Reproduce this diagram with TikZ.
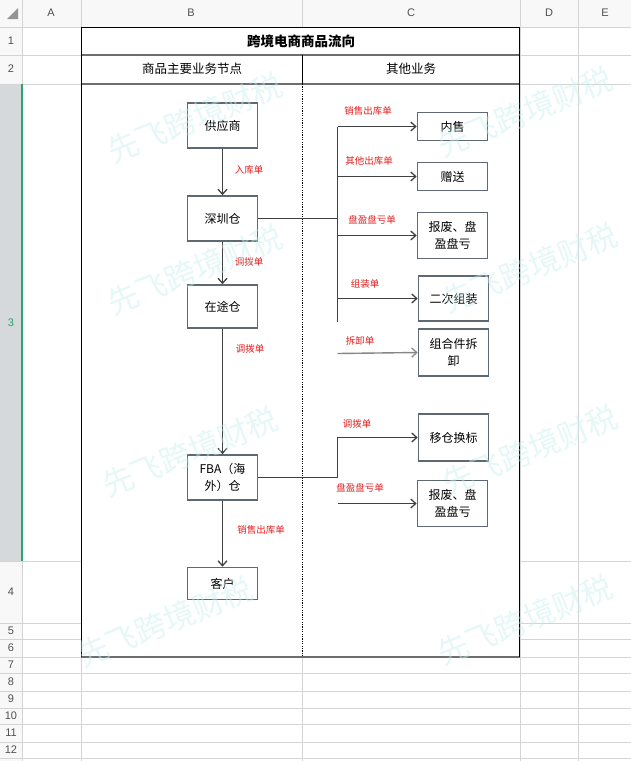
\documentclass[tikz,border=0pt]{standalone}
\usepackage{fontspec}
\setmainfont{Noto Sans CJK SC}
\newfontfamily\latin{Liberation Sans}
\usetikzlibrary{arrows.meta}
\definecolor{boxc}{RGB}{95,105,115}
\definecolor{arrc}{RGB}{65,65,65}
\definecolor{lightarr}{RGB}{135,135,135}
\definecolor{labred}{RGB}{230,30,30}
\definecolor{gridc}{RGB}{212,212,212}
\definecolor{hdrc}{RGB}{80,80,80}
\definecolor{hdrbg}{RGB}{248,248,248}
\definecolor{selc}{RGB}{214,217,220}
\definecolor{selg}{RGB}{40,165,110}
\definecolor{wmc}{RGB}{200,238,238}
\definecolor{thickc}{RGB}{110,110,110}
\begin{document}
\begin{tikzpicture}[x=1pt,y=-1pt,
  box/.style={draw=boxc,line width=1.6pt,minimum width=70pt,inner sep=0pt,align=center,font=\fontsize{12}{17}\selectfont},
  lab/.style={text=labred,font=\fontsize{9.5}{11}\selectfont,inner sep=0pt},
  arr/.style={draw=arrc,line width=1.4pt,-{Straight Barb[length=5pt,width=9pt,line width=1.3pt]}},
  wire/.style={draw=arrc,line width=1.4pt},
  grid/.style={draw=gridc,line width=0.8pt},
  hdr/.style={text=hdrc,font=\latin\fontsize{11}{11}\selectfont,inner sep=0pt},
  wm/.style={text=wmc,text opacity=0.45,font=\fontsize{31}{31}\selectfont,rotate=22,inner sep=0pt}]
\useasboundingbox (0,0) rectangle (631,761);
% backgrounds
\fill[white] (0,0) rectangle (631,761);
\fill[hdrbg] (0,0) rectangle (631,27);
\fill[hdrbg] (0,27) rectangle (22,761);
\fill[selc] (0,84) rectangle (22,561);
% grid lines
\foreach \yy in {27,673,691,708,724,742,758} \draw[grid] (0,\yy) -- (631,\yy);
\foreach \yy in {55,84,561,623,639,657} {\draw[grid] (0,\yy) -- (81,\yy); \draw[grid] (520,\yy) -- (631,\yy);}
\foreach \xx in {22,81,520,578} \draw[grid] (\xx,0) -- (\xx,761);
\draw[grid] (302,0) -- (302,27);
\draw[grid] (302,657) -- (302,761);
\draw[selg,line width=1.6pt] (22,84) -- (22,561);
\fill[gridc!70!black] (18,8) -- (18,19) -- (7,19) -- cycle;
% column and row headers
\node[hdr] (ca) at (51,13) {A};
\node[hdr] (cb) at (191,13) {B};
\node[hdr] (cc) at (411,13) {C};
\node[hdr] (cd) at (549,13) {D};
\node[hdr] (ce) at (605,13) {E};
\node[hdr] (r1) at (11,41) {1};
\node[hdr] (r2) at (11,69) {2};
\node[hdr,text=selg] (r3) at (11,323) {3};
\node[hdr] (r4) at (11,592) {4};
\node[hdr] (r5) at (11,631) {5};
\node[hdr] (r6) at (11,648) {6};
\node[hdr] (r7) at (11,665) {7};
\node[hdr] (r8) at (11,682) {8};
\node[hdr] (r9) at (11,699) {9};
\node[hdr] (r10) at (11,716) {10};
\node[hdr] (r11) at (11,733) {11};
\node[hdr] (r12) at (11,750) {12};
% table frame
\draw[thickc,line width=2pt] (81,55) -- (520,55);
\draw[thickc,line width=2pt] (81,84) -- (520,84);
\draw[thickc,line width=2pt] (81,657) -- (520,657);
\draw[black,line width=1.2pt] (81.5,657) -- (81.5,27.5) -- (519.5,27.5) -- (519.5,657);
\draw[black,line width=1.2pt] (302.5,55) -- (302.5,84);
\draw[black,line width=0.9pt,dash pattern=on 1.2pt off 1.2pt] (302.5,84) -- (302.5,657);
% titles
\node[font=\bfseries\fontsize{13.5}{14}\selectfont] (title) at (301,41) {跨境电商商品流向};
\node[font=\fontsize{12.5}{13}\selectfont] (hl) at (192,69) {商品主要业务节点};
\node[font=\fontsize{12.5}{13}\selectfont] (hr) at (411,69) {其他业务};
% main nodes
\node[box,minimum height=45pt] (sup) at (222.5,125.5) {供应商};
\node[box,minimum height=45pt] (szc) at (222.5,218.5) {深圳仓};
\node[box,minimum height=43pt] (ztc) at (222.5,306.5) {在途仓};
\node[box,minimum height=45pt] (fba) at (222.5,477.5) {FBA（海\\外）仓};
\node[box,minimum height=32pt] (kh) at (222.5,583.5) {客户};
% right nodes
\node[box,minimum height=28pt] (ns) at (452.5,126.5) {内售};
\node[box,minimum height=28pt] (zs) at (452.5,176.5) {赠送};
\node[box,minimum height=46pt] (bf1) at (452.5,235.5) {报废、盘\\盈盘亏};
\node[box,minimum height=45pt] (ecz) at (453.5,298.5) {二次组装};
\node[box,minimum height=47pt] (cx) at (453.5,352.5) {组合件拆\\卸};
\node[box,minimum height=47pt] (yc) at (453.5,437.5) {移仓换标};
\node[box,minimum height=46pt] (bf2) at (452.5,503.5) {报废、盘\\盈盘亏};
% main flow
\draw[arr] (sup) -- (szc);
\draw[arr] (szc) -- (ztc);
\draw[arr] (ztc) -- (fba);
\draw[arr] (fba) -- (kh);
\node[lab] (l1) at (249,170) {入库单};
\node[lab] (l2) at (249,262) {调拨单};
\node[lab] (l3) at (250,349) {调拨单};
\node[lab] (l4) at (261,530) {销售出库单};
% branches from 深圳仓
\coordinate (bartop) at (337.5,126.5);
\coordinate (barbot) at (337.5,322);
\draw[wire] (szc.east) -- (szc.east -| bartop);
\draw[wire] (bartop) -- (barbot);
\draw[arr] (bartop) -- (ns.west);
\draw[arr] (zs.west -| bartop) -- (zs.west);
\draw[arr] (bf1.west -| bartop) -- (bf1.west);
\draw[arr] (ecz.west -| bartop) -- (ecz.west);
\coordinate (cxs) at (337.5,353.5);
\draw[arr,draw=lightarr] (cxs) -- (cx.west);
\node[lab] (b1) at (368,111) {销售出库单};
\node[lab] (b2) at (369,161) {其他出库单};
\node[lab] (b3) at (372,220) {盘盈盘亏单};
\node[lab] (b4) at (365,284) {组装单};
\node[lab] (b5) at (360,341) {拆卸单};
% branches from FBA
\coordinate (fj) at (337.5,437.5);
\draw[arr] (fba.east) -| (fj) -- (yc.west);
\coordinate (pj) at (337.5,503.5);
\draw[arr] (pj) -- (bf2.west);
\node[lab] (b6) at (357,424) {调拨单};
\node[lab] (b7) at (360,488) {盘盈盘亏单};
% watermark overlay
\node[wm] (w1) at (195,118) {先飞跨境财税};
\node[wm] (w2) at (195,270) {先飞跨境财税};
\node[wm] (w3) at (190,452) {先飞跨境财税};
\node[wm] (w4) at (165,622) {先飞跨境财税};
\node[wm] (w5) at (525,112) {先飞跨境财税};
\node[wm] (w6) at (530,268) {先飞跨境财税};
\node[wm] (w7) at (530,450) {先飞跨境财税};
\node[wm] (w8) at (525,620) {先飞跨境财税};
\end{tikzpicture}
\end{document}
